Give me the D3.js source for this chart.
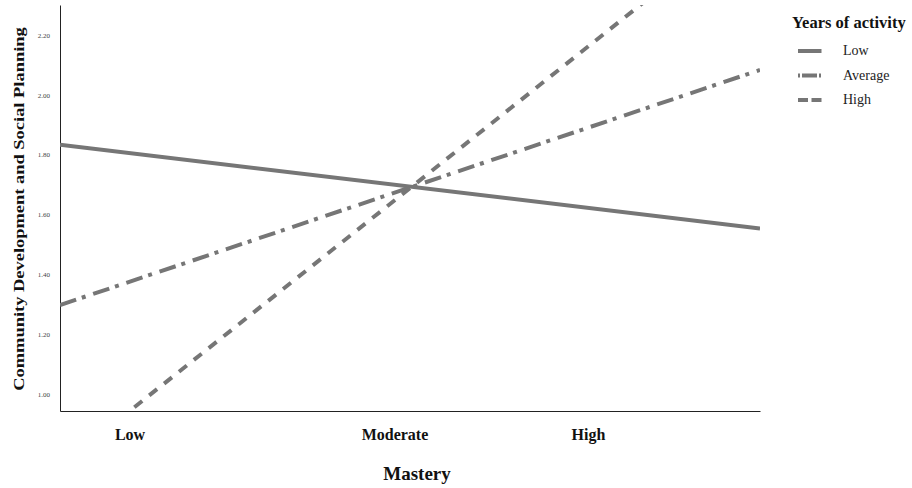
<!DOCTYPE html>
<html>
<head>
<meta charset="utf-8">
<script src="https://cdn.jsdelivr.net/npm/d3@7.9.0/dist/d3.min.js"></script>
<style>
  body { margin: 0; background: #fff; }
  svg { display: block; font-family: 'Liberation Serif', 'Times New Roman', serif; }
</style>
</head>
<body>
<div id="chart"></div>
<script>
// mastery (standardised) at the two ends of the plotted range
const masteryRange = [-1, 1];

// predicted score per level of years of activity, at low / high end of mastery
const groups = ['Low', 'Average', 'High'];
const lowEnd = [1.833, 1.297, 0.758];
const highEnd = [1.553, 2.083, 2.618];

const yTicks = [1.0, 1.2, 1.4, 1.6, 1.8, 2.0, 2.2];
const xLabels = ['Low', 'Moderate', 'High'];
const xLabelPos = [-0.80, -0.043, 0.51];

const width = 912;
const height = 488;
const margin = { top: 5, right: 152, bottom: 77, left: 60 };

const dashes = { Low: null, Average: '17,6,4,8', High: '10,9' };
const lineColor = '#767676';

const svg = d3.select('#chart')
  .append('svg')
  .attr('width', width)
  .attr('height', height);

const xScale = d3.scaleLinear()
  .domain(masteryRange)
  .range([margin.left, width - margin.right]);

const yScale = d3.scaleLinear()
  .domain([0.943, 2.30])
  .range([height - margin.bottom, margin.top]);

svg.append('clipPath')
  .attr('id', 'plot-clip')
  .append('rect')
  .attr('x', margin.left)
  .attr('y', margin.top)
  .attr('width', width - margin.left - margin.right)
  .attr('height', height - margin.top - margin.bottom);

// y axis
const yAxis = d3.axisLeft(yScale)
  .tickValues(yTicks)
  .tickSize(0)
  .tickPadding(10)
  .tickFormat(d3.format('.2f'));

const yg = svg.append('g')
  .attr('transform', `translate(${margin.left},0)`)
  .call(yAxis);
yg.select('.domain').attr('stroke', '#222').attr('stroke-width', 1);
yg.selectAll('text')
  .attr('font-size', 7)
  .attr('fill', '#444')
  .attr('font-family', 'Liberation Serif, serif');

// x axis line
const xg = svg.append('g')
  .attr('transform', `translate(0,${height - margin.bottom})`)
  .call(d3.axisBottom(xScale).tickValues([]).tickSizeOuter(0));
xg.select('.domain').attr('stroke', '#222').attr('stroke-width', 1);

// category labels under the axis
svg.append('g')
  .selectAll('text')
  .data(xLabels)
  .join('text')
  .attr('x', (d, i) => xScale(xLabelPos[i]))
  .attr('y', 440)
  .attr('text-anchor', 'middle')
  .attr('font-size', 16)
  .attr('font-weight', 'bold')
  .attr('fill', '#111')
  .text(d => d);

// axis titles
svg.append('text')
  .attr('x', 417)
  .attr('y', 480)
  .attr('text-anchor', 'middle')
  .attr('font-size', 19)
  .attr('font-weight', 'bold')
  .attr('fill', '#111')
  .text('Mastery');

// the title in the picture is stretched along its length
svg.append('text')
  .attr('transform', 'translate(24,209) rotate(-90) scale(1.23,1)')
  .attr('text-anchor', 'middle')
  .attr('font-size', 15)
  .attr('font-weight', 'bold')
  .attr('fill', '#111')
  .text('Community Development and Social Planning');

// lines
const lineData = groups.map((g, i) => ({
  group: g,
  points: [[masteryRange[0], lowEnd[i]], [masteryRange[1], highEnd[i]]],
}));

const line = d3.line()
  .x(d => xScale(d[0]))
  .y(d => yScale(d[1]));

svg.append('g')
  .attr('clip-path', 'url(#plot-clip)')
  .selectAll('path')
  .data(lineData)
  .join('path')
  .attr('d', d => line(d.points))
  .attr('fill', 'none')
  .attr('stroke', lineColor)
  .attr('stroke-width', 4)
  .attr('stroke-dasharray', d => dashes[d.group]);

// legend
const legend = svg.append('g').attr('transform', 'translate(792,0)');
legend.append('text')
  .attr('x', 0)
  .attr('y', 28)
  .attr('font-size', 16.5)
  .attr('font-weight', 'bold')
  .attr('fill', '#111')
  .text('Years of activity');

const legendDash = { Low: null, Average: '2,2,15,2,2', High: '10,3.5' };
const items = legend.selectAll('g.item')
  .data(groups)
  .join('g')
  .attr('class', 'item')
  .attr('transform', (d, i) => `translate(0,${51 + i * 24.5})`);

items.append('line')
  .attr('x1', 6)
  .attr('x2', 29.5)
  .attr('stroke', lineColor)
  .attr('stroke-width', 4)
  .attr('stroke-dasharray', d => legendDash[d]);

items.append('text')
  .attr('x', 51)
  .attr('y', 4)
  .attr('font-size', 14)
  .attr('fill', '#222')
  .text(d => d);
</script>
</body>
</html>
